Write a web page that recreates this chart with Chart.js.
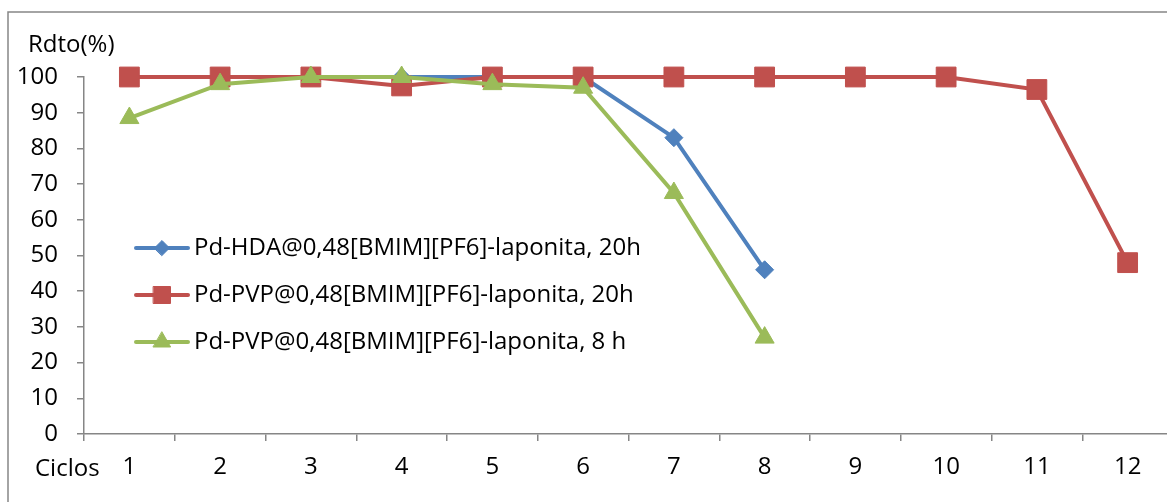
<!DOCTYPE html>
<html>
<head>
<meta charset="utf-8">
<script src="https://cdn.jsdelivr.net/npm/chart.js@4/dist/chart.umd.min.js"></script>
<style>
  html, body { margin: 0; padding: 0; background: #fff; overflow: hidden; }
  #wrap { position: absolute; left: 0; top: 0; width: 1188px; height: 502px; }
</style>
</head>
<body>
<div id="wrap"><canvas id="grafico" width="1188" height="502"></canvas></div>
<script>
// datos del grafico
const ciclos = ["1", "2", "3", "4", "5", "6", "7", "8", "9", "10", "11", "12"];
const hda20h = [100, 100, 100, 100, 100, 100, 83, 46, null, null, null, null];
const pvp20h = [100, 100, 100, 97.5, 100, 100, 100, 100, 100, 100, 96.5, 48];
const pvp8h = [88.5, 98, 100, 100, 98, 97, 67.5, 27, null, null, null, null];
const nombres = [
    "Pd-HDA@0,48[BMIM][PF6]-laponita, 20h",
    "Pd-PVP@0,48[BMIM][PF6]-laponita, 20h",
    "Pd-PVP@0,48[BMIM][PF6]-laponita, 8 h"
];

const AZUL = "#4F81BD";
const ROJO = "#C0504D";
const VERDE = "#9BBB59";
const GRIS = "#868686";
const FUENTE = "'Open Sans', 'DejaVu Sans', sans-serif";
const TAM = 24;

Chart.defaults.font.family = FUENTE;
Chart.defaults.font.size = TAM;
Chart.defaults.color = "#000";

/* leyenda dentro del area del grafico + marco + titulos de ejes */
const extras = {
    id: "extras",
    beforeDraw(chart) {
        const ctx = chart.ctx;
        ctx.save();
        ctx.fillStyle = "#fff";
        ctx.fillRect(0, 0, chart.width, chart.height);
        ctx.strokeStyle = GRIS;
        ctx.lineWidth = 1.5;
        ctx.strokeRect(8, 12, 2000, 2000);
        ctx.restore();
    },
    afterDraw(chart) {
        const ctx = chart.ctx;
        ctx.save();
        ctx.font = TAM + "px " + FUENTE;
        ctx.fillStyle = "#000";
        ctx.textBaseline = "middle";
        ctx.textAlign = "left";
        ctx.fillText("Rdto(%)", 28, 45);
        ctx.fillText("Ciclos", 35, 469);

        const items = [
            { color: AZUL, estilo: "rectRot", r: 7.5 },
            { color: ROJO, estilo: "rect", r: 12 },
            { color: VERDE, estilo: "triangle", r: 10 }
        ];
        const filas = [248, 295, 342];
        items.forEach((it, i) => {
            const y = filas[i];
            ctx.strokeStyle = it.color;
            ctx.fillStyle = it.color;
            ctx.lineWidth = 4;
            ctx.lineCap = "round";
            ctx.beginPath();
            ctx.moveTo(136, y);
            ctx.lineTo(188, y);
            ctx.stroke();
            ctx.lineWidth = 1;
            Chart.helpers.drawPoint(ctx, { pointStyle: it.estilo, rotation: 0, radius: it.r, borderWidth: 1 }, 162, y);
            ctx.fillStyle = "#000";
            ctx.fillText(nombres[i], 194, y);
        });
        ctx.restore();
    }
};

function serie(label, data, color, estilo, radio, orden) {
    return {
        label: label,
        data: data,
        borderColor: color,
        backgroundColor: color,
        borderWidth: 4,
        pointStyle: estilo,
        pointRadius: radio,
        pointHoverRadius: radio,
        pointBorderWidth: 1,
        pointBackgroundColor: color,
        pointBorderColor: color,
        tension: 0,
        fill: false,
        clip: false,
        order: orden
    };
}

new Chart(document.getElementById("grafico").getContext("2d"), {
    type: "line",
    data: {
        labels: ciclos,
        datasets: [
            serie(nombres[0], hda20h, AZUL, "rectRot", 9, 3),
            serie(nombres[1], pvp20h, ROJO, "rect", 14, 2),
            serie(nombres[2], pvp8h, VERDE, "triangle", 11, 1)
        ]
    },
    options: {
        responsive: false,
        animation: false,
        events: [],
        layout: { padding: { top: 77, right: 7, left: 0, bottom: 0 } },
        plugins: {
            legend: { display: false },
            tooltip: { enabled: false }
        },
        scales: {
            x: {
                offset: true,
                grid: { offset: true, drawOnChartArea: false, tickLength: 7, color: GRIS, lineWidth: 1.5 },
                border: { color: GRIS, width: 1.5 },
                ticks: { maxRotation: 0, autoSkip: false, padding: 12 },
                afterFit(scale) { scale.height = 68; }
            },
            y: {
                min: 0,
                max: 100,
                ticks: { stepSize: 10, padding: 19 },
                grid: { drawOnChartArea: false, tickLength: 7, color: GRIS, lineWidth: 1.5 },
                border: { color: GRIS, width: 1.5 },
                afterFit(scale) { scale.width = 84; }
            }
        }
    },
    plugins: [extras]
});
</script>
</body>
</html>
